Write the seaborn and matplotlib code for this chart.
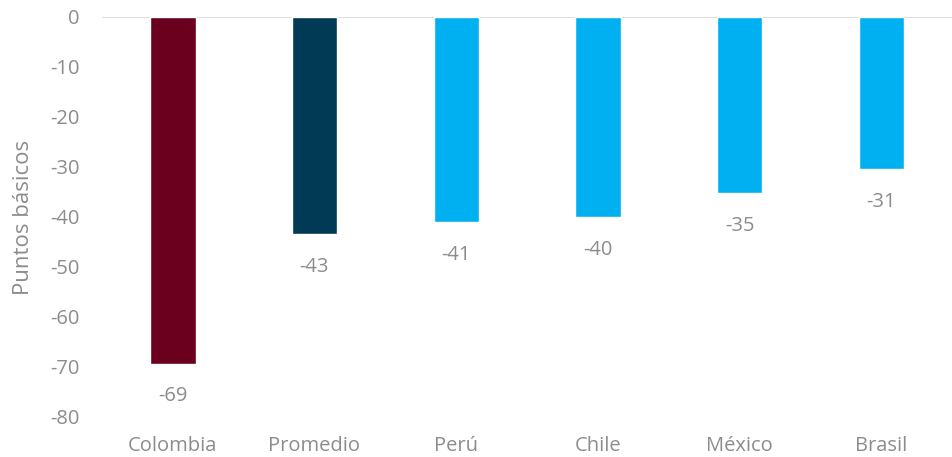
import matplotlib
matplotlib.use("Agg")
import matplotlib.pyplot as plt
import seaborn as sns
import pandas as pd

paises = ["Colombia", "Promedio", "Perú", "Chile", "México", "Brasil"]
valores = [-69.3, -43.3, -40.9, -40.0, -35.2, -30.4]
etiquetas = ["-69", "-43", "-41", "-40", "-35", "-31"]
colores = ["#6B001E", "#003A54", "#00B0F0", "#00B0F0", "#00B0F0", "#00B0F0"]

sns.set_theme(style="white")
plt.rcParams["font.family"] = ["Open Sans", "DejaVu Sans"]
plt.rcParams["axes.unicode_minus"] = False
gris = "#8C8C8C"

df = pd.DataFrame({"pais": paises, "valor": valores})

fig = plt.figure(figsize=(9.52, 4.57), dpi=100)
ax = fig.add_axes([102 / 952, 40 / 457, 850 / 952, 400 / 457])

sns.barplot(data=df, x="pais", y="valor", hue="pais", palette=colores,
            width=0.32, legend=False, ax=ax, saturation=1)

for i, (v, t) in enumerate(zip(valores, etiquetas)):
    ax.text(i, v - 4.6, t, ha="center", va="top", fontsize=14.5, color=gris)

ax.set_ylim(-80, 0)
ax.set_yticks(range(-80, 1, 10))
ax.set_xlim(-0.5, 5.5)
ax.axhline(0, color="#D9D9D9", lw=1.2, zorder=0)
for s in ax.spines.values():
    s.set_visible(False)
ax.tick_params(axis="both", length=0, labelsize=14.5, colors=gris)
ax.tick_params(axis="y", pad=16)
ax.tick_params(axis="x", pad=14)
ax.set_xlabel("")
ax.set_ylabel("Puntos básicos", fontsize=16, color=gris)
ax.yaxis.set_label_coords(-68 / 850, 0.5)

fig.savefig("out.png", dpi=100)
